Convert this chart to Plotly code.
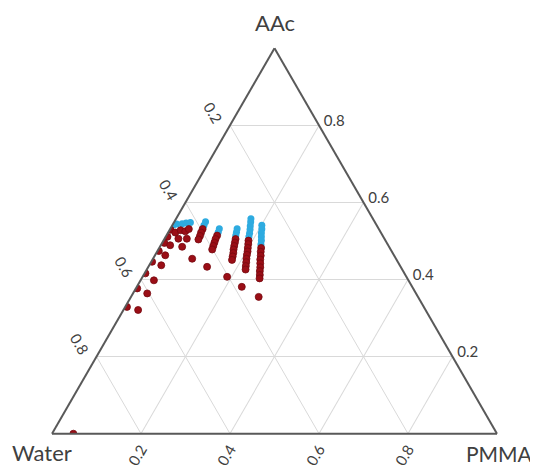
import plotly.graph_objects as go

# Ternary compositions (fractions): AAc (top), PMMA (bottom-right); Water = remainder
blue_aac = [0.542, 0.544, 0.545, 0.547, 0.548,
            0.550, 0.541,
            0.532, 0.523,
            0.532, 0.523, 0.514,
            0.558, 0.549, 0.539, 0.530, 0.520, 0.511,
            0.541, 0.531, 0.521, 0.511, 0.501, 0.491]
blue_pmma = [0.002, 0.008, 0.020, 0.028, 0.037,
             0.070, 0.071,
             0.110, 0.112,
             0.150, 0.153, 0.156,
             0.168, 0.172, 0.176, 0.180, 0.184, 0.187,
             0.201, 0.206, 0.210, 0.215, 0.220, 0.224]

red_aac = [0.529, 0.522, 0.528, 0.525, 0.531, 0.511, 0.506, 0.506, 0.495, 0.489,
           0.485, 0.474, 0.463, 0.446, 0.437, 0.416, 0.398, 0.377, 0.364, 0.329,
           0.321,
           0.454, 0.433, 0.407, 0.381, 0.355,
           0.000,
           0.531, 0.522, 0.513, 0.504,
           0.514, 0.505, 0.496, 0.487, 0.478,
           0.505, 0.496, 0.487, 0.478, 0.469, 0.460, 0.451,
           0.501, 0.492, 0.482, 0.473, 0.464, 0.454, 0.445, 0.435, 0.426,
           0.482, 0.472, 0.462, 0.452, 0.442, 0.432, 0.422, 0.412, 0.403]
red_pmma = [0.002, 0.016, 0.025, 0.037, 0.042, 0.004, 0.031, 0.050, 0.005, 0.021,
            0.050, 0.003, 0.023, 0.002, 0.027, 0.002, 0.030, 0.003, 0.032, 0.004,
            0.033,
            0.088, 0.132, 0.190, 0.236, 0.287,
            0.048,
            0.073, 0.074, 0.076, 0.077,
            0.114, 0.115, 0.117, 0.119, 0.121,
            0.160, 0.163, 0.166, 0.169, 0.173, 0.176, 0.179,
            0.191, 0.195, 0.199, 0.203, 0.206, 0.210, 0.214, 0.218, 0.222,
            0.229, 0.233, 0.238, 0.242, 0.247, 0.252, 0.256, 0.261, 0.265]

tick_vals = [0.2, 0.4, 0.6, 0.8]
tick_text = ["0.8", "0.6", "0.4", "0.2"]
corner_labels = ["AAc", "Water", "PMMA"]

blue_water = [1 - a - c for a, c in zip(blue_aac, blue_pmma)]
red_water = [1 - a - c for a, c in zip(red_aac, red_pmma)]

FONT = "Lato, 'Open Sans', sans-serif"
TXT = "#404040"

fig = go.Figure()
fig.add_trace(go.Scatterternary(
    a=blue_aac, b=blue_water, c=blue_pmma, mode="markers",
    marker=dict(size=7, color="#2EABE0", line=dict(width=0)),
    hoverinfo="skip", showlegend=False))
fig.add_trace(go.Scatterternary(
    a=red_aac, b=red_water, c=red_pmma, mode="markers",
    marker=dict(size=7, color="#9A0E16", line=dict(width=0.8, color="#760A10")),
    hoverinfo="skip", showlegend=False))

axis_common = dict(
    tickvals=tick_vals, ticktext=tick_text,
    tickcolor="rgba(0,0,0,0)",
    showgrid=True, gridcolor="#D9D9D9", gridwidth=1,
    linecolor="#595959", linewidth=2,
    tickfont=dict(family=FONT, size=15, color=TXT),
    showline=True,
)

fig.update_layout(
    width=538, height=469,
    margin=dict(l=44, r=49, t=40, b=43),
    paper_bgcolor="white",
    showlegend=False,
    ternary=dict(
        sum=1,
        bgcolor="white",
        domain=dict(x=[0, 1], y=[0, 1]),
        aaxis=dict(title=dict(text=""), tickangle=60, ticks="outside", ticklen=7, **axis_common),
        baxis=dict(title=dict(text=""), tickangle=-60, ticks="", **axis_common),
        caxis=dict(title=dict(text=""), tickangle=0, ticks="outside", ticklen=3, **axis_common),
    ),
    annotations=[
        dict(text=corner_labels[0], x=0.501, y=1.065, xref="paper", yref="paper",
             xanchor="center", yanchor="middle", showarrow=False,
             font=dict(family=FONT, size=22, color=TXT)),
        dict(text=corner_labels[1], x=-0.0225, y=-0.087, xref="paper", yref="paper",
             xanchor="center", yanchor="bottom", showarrow=False,
             font=dict(family=FONT, size=22, color=TXT)),
        dict(text=corner_labels[2], x=1.0067, y=-0.087, xref="paper", yref="paper",
             xanchor="center", yanchor="bottom", showarrow=False,
             font=dict(family=FONT, size=21, color=TXT)),
    ],
)

fig.write_html("out.html")
